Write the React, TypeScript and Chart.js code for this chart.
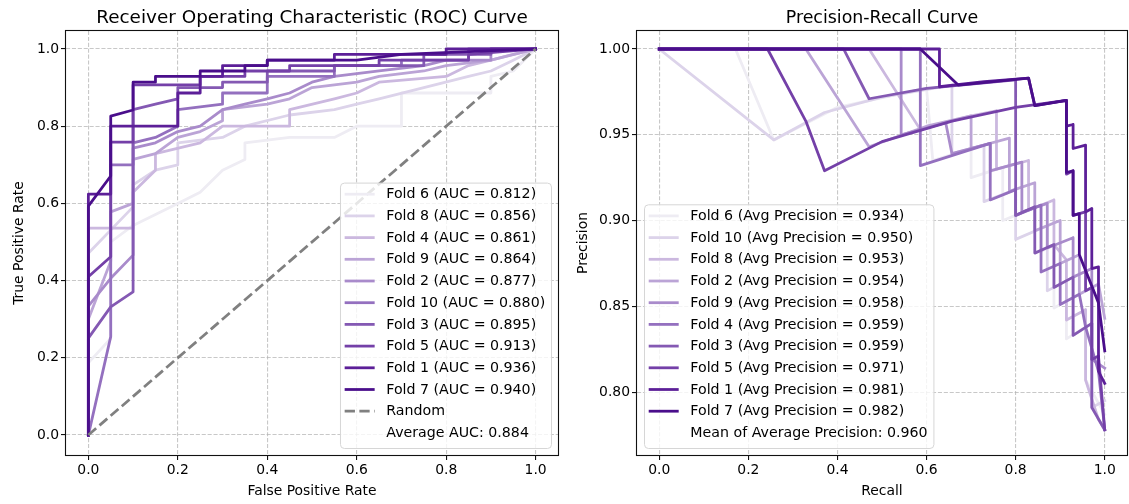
import React, { useEffect, useRef } from "react";
import { Chart, registerables } from "chart.js";
Chart.register(...registerables);

const FONT = '"DejaVu Sans", "Liberation Sans", sans-serif';
const TICK_PX = 13.9;
const LEGEND_PX = 14.2;
const LW = 2.78;

// colours, lightest -> darkest (legend order)
const foldColors = ["#eeecf3", "#dcd3ea", "#cbb8df", "#bba4d6", "#a98bcb", "#9470bf", "#8459b3", "#7440a8", "#5c1f98", "#4a0e8b"];

const unitTicks = [0, 0.2, 0.4, 0.6, 0.8, 1.0];
const prYTicks = [0.8, 0.85, 0.9, 0.95, 1.0];

// ---------- ROC ----------
const rocLabels = [
  "Fold 6 (AUC = 0.812)", "Fold 8 (AUC = 0.856)", "Fold 4 (AUC = 0.861)", "Fold 9 (AUC = 0.864)",
  "Fold 2 (AUC = 0.877)", "Fold 10 (AUC = 0.880)", "Fold 3 (AUC = 0.895)", "Fold 5 (AUC = 0.913)",
  "Fold 1 (AUC = 0.936)", "Fold 7 (AUC = 0.940)",
];
const rocFold6 = [[0,0],[0,0.187],[0.05,0.25],[0.05,0.5],[0.1,0.543],[0.15,0.571],[0.2,0.6],[0.25,0.629],[0.3,0.686],[0.35,0.714],[0.35,0.757],[0.45,0.771],[0.55,0.771],[0.6,0.8],[0.7,0.8],[0.7,0.886],[0.9,0.886],[0.9,0.929],[0.95,0.943],[1,1]];
const rocFold8 = [[0,0],[0,0.471],[0.1,0.591],[0.1,0.648],[0.15,0.686],[0.2,0.7],[0.2,0.757],[0.3,0.771],[0.35,0.8],[0.45,0.829],[0.55,0.843],[0.6,0.857],[0.65,0.871],[0.75,0.9],[0.85,0.929],[0.9,0.943],[0.95,0.971],[1,1]];
const rocFold4 = [[0,0],[0,0.536],[0.1,0.536],[0.1,0.629],[0.15,0.686],[0.15,0.729],[0.25,0.757],[0.3,0.8],[0.45,0.8],[0.45,0.843],[0.55,0.871],[0.6,0.886],[0.65,0.914],[0.8,0.929],[0.85,0.957],[0.9,0.971],[0.95,0.986],[1,1]];
const rocFold9 = [[0,0],[0,0.3],[0.05,0.45],[0.05,0.578],[0.1,0.6],[0.1,0.714],[0.15,0.729],[0.2,0.771],[0.25,0.786],[0.3,0.814],[0.3,0.843],[0.4,0.857],[0.45,0.871],[0.5,0.9],[0.6,0.914],[0.65,0.929],[0.75,0.943],[0.8,0.957],[0.9,0.971],[1,1]];
const rocFold2 = [[0,0],[0,0.334],[0.05,0.406],[0.1,0.466],[0.1,0.743],[0.15,0.757],[0.2,0.786],[0.25,0.8],[0.3,0.843],[0.35,0.857],[0.4,0.871],[0.45,0.886],[0.5,0.914],[0.55,0.929],[0.65,0.943],[0.75,0.957],[0.8,0.971],[0.9,0.971],[0.9,1],[1,1]];
const rocFold10 = [[0,0],[0.05,0.255],[0.05,0.7],[0.1,0.7],[0.1,0.757],[0.15,0.771],[0.2,0.8],[0.2,0.843],[0.3,0.857],[0.3,0.886],[0.4,0.886],[0.4,0.929],[0.55,0.929],[0.55,0.957],[0.7,0.957],[0.7,0.971],[0.85,0.971],[0.85,1],[1,1]];
const rocFold3 = [[0,0],[0,0.251],[0.05,0.332],[0.1,0.371],[0.1,0.843],[0.15,0.857],[0.2,0.871],[0.2,0.9],[0.3,0.9],[0.3,0.914],[0.4,0.914],[0.4,0.943],[0.55,0.943],[0.55,0.957],[0.75,0.957],[0.75,0.986],[0.9,0.986],[0.9,1],[1,1]];
const rocFold5 = [[0,0],[0,0.41],[0.05,0.462],[0.05,0.759],[0.1,0.759],[0.1,0.907],[0.25,0.907],[0.25,0.929],[0.35,0.929],[0.35,0.943],[0.45,0.943],[0.45,0.957],[0.65,0.957],[0.65,0.971],[0.85,0.971],[0.85,0.986],[1,1]];
const rocFold1 = [[0,0],[0,0.624],[0.05,0.624],[0.05,0.8],[0.2,0.8],[0.2,0.886],[0.25,0.886],[0.25,0.929],[0.3,0.929],[0.3,0.957],[0.4,0.957],[0.4,0.971],[0.55,0.971],[0.55,0.986],[0.8,0.986],[0.8,1],[1,1]];
const rocFold7 = [[0,0],[0,0.593],[0.05,0.671],[0.05,0.826],[0.1,0.842],[0.1,0.914],[0.15,0.914],[0.15,0.929],[0.25,0.929],[0.25,0.943],[0.35,0.943],[0.35,0.957],[0.4,0.957],[0.4,0.971],[0.6,0.971],[0.7,0.986],[1,1]];
const rocCurves = [rocFold6, rocFold8, rocFold4, rocFold9, rocFold2, rocFold10, rocFold3, rocFold5, rocFold1, rocFold7];
const randomLine = [[0,0],[1,1]];
const rocAverageText = "Average AUC: 0.884";

// ---------- Precision-Recall ----------
const prLabels = [
  "Fold 6 (Avg Precision = 0.934)", "Fold 10 (Avg Precision = 0.950)", "Fold 8 (Avg Precision = 0.953)",
  "Fold 2 (Avg Precision = 0.954)", "Fold 9 (Avg Precision = 0.958)", "Fold 4 (Avg Precision = 0.959)",
  "Fold 3 (Avg Precision = 0.959)", "Fold 5 (Avg Precision = 0.971)", "Fold 1 (Avg Precision = 0.981)",
  "Fold 7 (Avg Precision = 0.982)",
];
const prFold6 = [[0,1],[0.171,1],[0.257,0.947],[0.4,0.966],[0.543,0.974],[0.6,0.977],[0.614,0.935],[0.7,0.942],[0.7,0.925],[0.771,0.931],[0.771,0.9],[0.857,0.909],[0.857,0.882],[0.886,0.886],[0.886,0.849],[0.914,0.853],[0.914,0.831],[0.957,0.838],[0.957,0.807],[1,0.787]];
const prFold10 = [[0,1],[0.257,0.947],[0.371,0.963],[0.5,0.972],[0.657,0.979],[0.657,0.939],[0.729,0.944],[0.729,0.911],[0.8,0.918],[0.8,0.889],[0.871,0.897],[0.871,0.859],[0.929,0.867],[0.929,0.833],[0.971,0.84],[0.971,0.791],[1,0.795]];
const prFold8 = [[0,1],[0.471,1],[0.586,0.953],[0.7,0.961],[0.757,0.964],[0.757,0.93],[0.829,0.935],[0.829,0.906],[0.886,0.912],[0.886,0.886],[0.914,0.877],[0.914,0.842],[0.957,0.848],[0.957,0.807],[0.986,0.784],[1,0.778]];
const prFold2 = [[0,1],[0.329,1],[0.471,0.943],[0.6,0.955],[0.7,0.961],[0.7,0.942],[0.786,0.948],[0.786,0.917],[0.843,0.922],[0.843,0.894],[0.9,0.9],[0.9,0.875],[0.943,0.88],[0.943,0.857],[0.986,0.863],[1,0.843]];
const prFold9 = [[0,1],[0.543,1],[0.543,0.95],[0.643,0.957],[0.657,0.939],[0.743,0.945],[0.743,0.929],[0.814,0.934],[0.814,0.905],[0.871,0.91],[0.871,0.884],[0.929,0.89],[0.929,0.867],[0.971,0.872],[0.971,0.819],[1,0.814]];
const prFold4 = [[0,1],[0.586,1],[0.586,0.932],[0.743,0.945],[0.743,0.912],[0.8,0.918],[0.8,0.903],[0.857,0.909],[0.857,0.87],[0.9,0.875],[0.9,0.851],[0.943,0.857],[0.957,0.838],[0.986,0.812],[1,0.778]];
const prFold3 = [[0,1],[0.414,1],[0.471,0.971],[0.6,0.977],[0.8,0.982],[0.8,0.903],[0.843,0.908],[0.843,0.881],[0.886,0.886],[0.886,0.861],[0.929,0.867],[0.929,0.833],[0.971,0.84],[0.971,0.791],[1,0.778]];
const prFold5 = [[0,1],[0.243,1],[0.329,0.958],[0.371,0.929],[0.5,0.946],[0.657,0.958],[0.8,0.966],[0.914,0.97],[0.914,0.927],[0.929,0.929],[0.929,0.903],[0.957,0.905],[0.957,0.859],[0.971,0.861],[0.971,0.819],[0.986,0.821],[1,0.778]];
const prFold1 = [[0,1],[0.629,1],[0.629,0.978],[0.729,0.981],[0.829,0.983],[0.843,0.967],[0.914,0.97],[0.914,0.955],[0.929,0.956],[0.929,0.942],[0.957,0.944],[0.957,0.905],[0.971,0.907],[0.971,0.872],[0.986,0.873],[0.986,0.812],[1,0.805]];
const prFold7 = [[0,1],[0.586,1],[0.671,0.979],[0.829,0.983],[0.843,0.967],[0.914,0.97],[0.914,0.928],[0.929,0.929],[0.929,0.903],[0.943,0.904],[0.943,0.88],[0.986,0.852],[1,0.824]];
const prCurves = [prFold6, prFold10, prFold8, prFold2, prFold9, prFold4, prFold3, prFold5, prFold1, prFold7];
const prAverageText = "Mean of Average Precision: 0.960";

const AREA_TOP = 31;
const AREA_BOTTOM = 455;
const H = 504;
const RANDOM_DASH = [10.3, 4.4];

function decorPlugin(spec: any) {
  return {
    id: "decor",
    afterDatasetsDraw(chart: any) {
      const { ctx, chartArea: a } = chart;
      ctx.save();
      ctx.strokeStyle = "#111";
      ctx.lineWidth = 1.1;
      ctx.strokeRect(a.left - 0.5, a.top - 0.5, a.right - a.left + 1, a.bottom - a.top + 1);
      ctx.restore();
    },
    afterDraw(chart: any) {
      const { ctx, chartArea: a } = chart;
      ctx.save();
      // title
      ctx.fillStyle = "#000";
      ctx.font = `${spec.titlePx}px ${FONT}`;
      ctx.textAlign = "center";
      ctx.textBaseline = "alphabetic";
      ctx.fillText(spec.title, (a.left + a.right) / 2, a.top - 8.5);
      // axis labels
      ctx.font = `${TICK_PX}px ${FONT}`;
      ctx.textBaseline = "middle";
      ctx.fillText(spec.xLabel, (a.left + a.right) / 2, 491);
      ctx.save();
      ctx.translate(spec.yLabelX, (a.top + a.bottom) / 2);
      ctx.rotate(-Math.PI / 2);
      ctx.fillText(spec.yLabel, 0, 0);
      ctx.restore();

      // legend
      const items = spec.legendItems;
      ctx.font = `${LEGEND_PX}px ${FONT}`;
      const maxW = Math.max(...items.map((it: any) => ctx.measureText(it.label).width));
      const rowH = 21.7;
      const boxW = 46.3 + maxW + 5.8;
      const boxH = 5 + items.length * rowH;
      const by = a.bottom - 7 - boxH;
      const bx = spec.legendSide === "right" ? a.right - 7 - boxW : a.left + 7;
      ctx.beginPath();
      if (ctx.roundRect) ctx.roundRect(bx + 0.5, by + 0.5, boxW, boxH, 4);
      else ctx.rect(bx + 0.5, by + 0.5, boxW, boxH);
      ctx.fillStyle = "rgba(255,255,255,0.8)";
      ctx.fill();
      ctx.strokeStyle = "#d6d6d6";
      ctx.lineWidth = 1;
      ctx.stroke();
      items.forEach((it: any, i: number) => {
        const cy = by + 11.6 + i * rowH;
        if (it.color) {
          ctx.save();
          ctx.strokeStyle = it.color;
          ctx.lineWidth = LW;
          ctx.setLineDash(it.dash || []);
          ctx.lineCap = "butt";
          ctx.beginPath();
          ctx.moveTo(bx + 4.7, cy);
          ctx.lineTo(bx + 34.7, cy);
          ctx.stroke();
          ctx.restore();
        }
        ctx.fillStyle = "#000";
        ctx.textAlign = "left";
        ctx.textBaseline = "middle";
        ctx.fillText(it.label, bx + 46.3, cy + 0.5);
      });
      ctx.restore();
    },
  };
}

function buildConfig(spec: any, canvasW: number) {
  const n = spec.curves.length;
  const datasets: any[] = spec.curves.map((pts: number[][], i: number) => ({
    label: spec.labels[i],
    data: pts.map(([x, y]) => ({ x, y })),
    borderColor: foldColors[i],
    backgroundColor: foldColors[i],
    borderWidth: LW,
    pointRadius: 0,
    tension: 0,
    fill: false,
    borderCapStyle: "square",
    borderJoinStyle: "round",
    order: n - i + 1,
  }));
  if (spec.random) {
    datasets.push({
      label: "Random",
      data: spec.random.map(([x, y]: number[]) => ({ x, y })),
      borderColor: "#808080",
      borderWidth: LW,
      borderDash: RANDOM_DASH,
      pointRadius: 0,
      fill: false,
      order: 0,
    });
  }
  const tickFont = { family: FONT, size: TICK_PX };
  const grid = {
    color: "rgba(176,176,176,0.7)",
    lineWidth: 1.1,
    drawTicks: true,
    tickLength: 5,
    tickColor: "#111",
    tickWidth: 1.1,
    tickBorderDash: [],
  };
  return {
    type: "line",
    data: { datasets },
    options: {
      responsive: false,
      animation: false,
      devicePixelRatio: 1,
      events: [],
      layout: { padding: { left: 0, top: AREA_TOP, right: canvasW - spec.areaRight, bottom: 0 } },
      plugins: { legend: { display: false }, tooltip: { enabled: false }, title: { display: false } },
      scales: {
        x: {
          type: "linear",
          min: -0.05,
          max: 1.05,
          afterBuildTicks: (s: any) => { s.ticks = unitTicks.map((v) => ({ value: v })); },
          afterFit: (s: any) => { s.height = H - AREA_BOTTOM; },
          ticks: { autoSkip: false, maxRotation: 0, padding: 2, color: "#000", font: tickFont, callback: (v: any) => Number(v).toFixed(1) },
          grid,
          border: { display: false, dash: [4.1, 1.8] },
        },
        y: {
          type: "linear",
          min: spec.yMin,
          max: spec.yMax,
          afterBuildTicks: (s: any) => { s.ticks = spec.yTicks.map((v: number) => ({ value: v })); },
          afterFit: (s: any) => { s.width = spec.areaLeft; },
          ticks: { autoSkip: false, padding: 2, color: "#000", font: tickFont, callback: (v: any) => Number(v).toFixed(spec.yDecimals) },
          grid,
          border: { display: false, dash: [4.1, 1.8] },
        },
      },
    },
    plugins: [decorPlugin(spec)],
  };
}

const rocSpec = {
  curves: rocCurves,
  labels: rocLabels,
  random: randomLine,
  title: "Receiver Operating Characteristic (ROC) Curve",
  titlePx: 18.4,
  xLabel: "False Positive Rate",
  yLabel: "True Positive Rate",
  yLabelX: 19,
  yMin: -0.0518,
  yMax: 1.0466,
  yTicks: unitTicks,
  yDecimals: 1,
  areaLeft: 66,
  areaRight: 558,
  legendSide: "right",
  legendItems: [
    ...rocLabels.map((l, i) => ({ label: l, color: foldColors[i] })),
    { label: "Random", color: "#808080", dash: RANDOM_DASH },
    { label: rocAverageText },
  ],
};

const prSpec = {
  curves: prCurves,
  labels: prLabels,
  random: null,
  title: "Precision-Recall Curve",
  titlePx: 17.4,
  xLabel: "Recall",
  yLabel: "Precision",
  yLabelX: 18,
  yMin: 0.7633,
  yMax: 1.0105,
  yTicks: prYTicks,
  yDecimals: 2,
  areaLeft: 72,
  areaRight: 562,
  legendSide: "left",
  legendItems: [
    ...prLabels.map((l, i) => ({ label: l, color: foldColors[i] })),
    { label: prAverageText },
  ],
};

function Plot({ spec, left, width }: any) {
  const ref = useRef<HTMLCanvasElement>(null);
  useEffect(() => {
    const chart = new Chart(ref.current as HTMLCanvasElement, buildConfig(spec, width) as any);
    return () => chart.destroy();
  }, []);
  return (
    <canvas
      ref={ref}
      width={width}
      height={H}
      style={{ position: "absolute", left, top: 0, width, height: H }}
    />
  );
}

export default function App() {
  return (
    <div style={{ position: "absolute", left: 0, top: 0, width: 1129, height: H, background: "#fff", overflow: "hidden" }}>
      <Plot spec={rocSpec} left={0} width={565} />
      <Plot spec={prSpec} left={565} width={564} />
    </div>
  );
}
